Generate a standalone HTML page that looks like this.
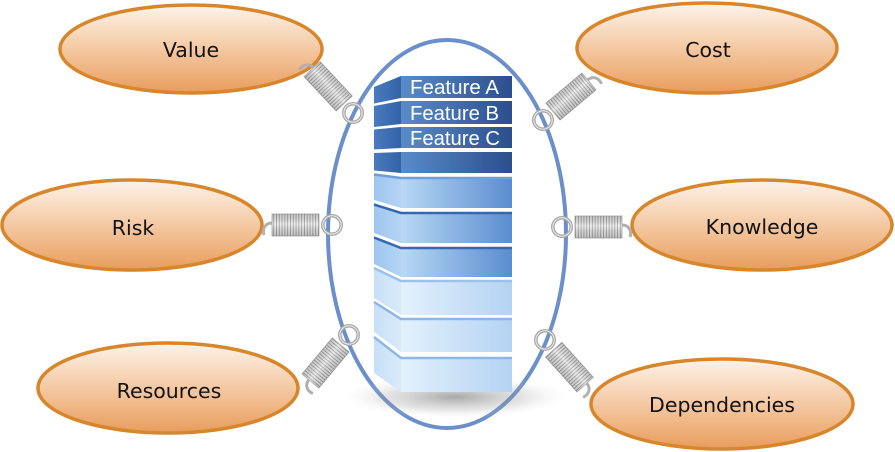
<!DOCTYPE html>
<html>
<head>
<meta charset="utf-8">
<style>
html,body{margin:0;padding:0;background:#fff;}
svg{display:block;}
.lbl{font-family:"DejaVu Sans","Liberation Sans",sans-serif;font-size:20.5px;fill:#111;text-anchor:middle;}
.ft{font-family:"Liberation Sans","DejaVu Sans",sans-serif;font-size:20px;fill:#fff;}
</style>
</head>
<body>
<svg width="895" height="452" viewBox="0 0 895 452" xmlns="http://www.w3.org/2000/svg">
<defs>
  <linearGradient id="og" x1="0" y1="0" x2="0" y2="1">
    <stop offset="0" stop-color="#fdf3ea"/>
    <stop offset="0.5" stop-color="#f4c9a3"/>
    <stop offset="1" stop-color="#e89d5c"/>
  </linearGradient>
  <linearGradient id="tf" x1="0" y1="0" x2="1" y2="0">
    <stop offset="0" stop-color="#5a8bc9"/>
    <stop offset="1" stop-color="#2b4f8c"/>
  </linearGradient>
  <linearGradient id="tl" x1="0" y1="0" x2="1" y2="0">
    <stop offset="0" stop-color="#4a7bbe"/>
    <stop offset="1" stop-color="#3163a6"/>
  </linearGradient>
  <linearGradient id="mf" x1="0" y1="0" x2="1" y2="0">
    <stop offset="0" stop-color="#b8d8f5"/>
    <stop offset="1" stop-color="#5a8dcf"/>
  </linearGradient>
  <linearGradient id="ml" x1="0" y1="0" x2="1" y2="0">
    <stop offset="0" stop-color="#9fc6ee"/>
    <stop offset="1" stop-color="#b3d4f4"/>
  </linearGradient>
  <linearGradient id="lf" x1="0" y1="0" x2="1" y2="0">
    <stop offset="0" stop-color="#e3f1fd"/>
    <stop offset="1" stop-color="#b4d3f2"/>
  </linearGradient>
  <linearGradient id="ll" x1="0" y1="0" x2="1" y2="0">
    <stop offset="0" stop-color="#c7dff7"/>
    <stop offset="1" stop-color="#d9ebfb"/>
  </linearGradient>
  <radialGradient id="sh" cx="0.5" cy="0.5" r="0.5">
    <stop offset="0" stop-color="#6f6f6f" stop-opacity="0.6"/>
    <stop offset="0.6" stop-color="#9a9a9a" stop-opacity="0.25"/>
    <stop offset="1" stop-color="#ffffff" stop-opacity="0"/>
  </radialGradient>
  <pattern id="coilP" patternUnits="userSpaceOnUse" width="2.8" height="22" x="0" y="-11">
    <rect width="2.8" height="22" fill="#e8e8e8"/>
    <rect width="0.9" height="22" fill="#9a9a9a"/>
  </pattern>
  <linearGradient id="cs" x1="0" y1="0" x2="0" y2="1">
    <stop offset="0" stop-color="#000" stop-opacity="0.12"/>
    <stop offset="0.45" stop-color="#fff" stop-opacity="0.25"/>
    <stop offset="1" stop-color="#000" stop-opacity="0.15"/>
  </linearGradient>
  <g id="coil">
    <path d="M-60,-2 C-67,-2 -70,4 -68,10" stroke="#b0b0b0" stroke-width="3" fill="none"/>
    <rect x="-60" y="-11" width="47" height="22" fill="url(#coilP)" stroke="#a5a5a5" stroke-width="0.8"/>
    <rect x="-60" y="-11" width="47" height="22" fill="url(#cs)"/>
  </g>
  <g id="ring">
    <circle r="9.2" fill="none" stroke="#a8a8a8" stroke-width="3.6"/>
    <circle r="9.2" fill="none" stroke="#ececec" stroke-width="1"/>
  </g>
</defs>

<!-- Ovals -->
<g stroke="#d8862c" stroke-width="3.5" fill="url(#og)">
  <ellipse cx="191" cy="49" rx="131" ry="44"/>
  <ellipse cx="132" cy="225" rx="130" ry="45"/>
  <ellipse cx="168" cy="388" rx="130" ry="45"/>
  <ellipse cx="707" cy="48" rx="130" ry="45"/>
  <ellipse cx="762" cy="225" rx="130" ry="45"/>
  <ellipse cx="722" cy="404" rx="131" ry="45"/>
</g>
<text class="lbl" x="191" y="57">Value</text>
<text class="lbl" x="133" y="235">Risk</text>
<text class="lbl" x="169" y="398">Resources</text>
<text class="lbl" x="708" y="57">Cost</text>
<text class="lbl" x="762" y="234">Knowledge</text>
<text class="lbl" x="722" y="412">Dependencies</text>

<!-- Springs (coils) -->
<use href="#coil" transform="translate(353,113) rotate(47)"/>
<use href="#coil" transform="translate(332,225) rotate(0)"/>
<use href="#coil" transform="translate(349,335) rotate(-50)"/>
<use href="#coil" transform="translate(543,120) rotate(140) scale(1,-1)"/>
<use href="#coil" transform="translate(562,227) rotate(180) scale(1,-1)"/>
<use href="#coil" transform="translate(545,340) rotate(228) scale(1,-1)"/>

<!-- Big ellipse -->
<ellipse cx="447" cy="234" rx="119" ry="194" fill="none" stroke="#6a8fca" stroke-width="4"/>

<!-- Shadow -->
<ellipse cx="455" cy="397" rx="118" ry="22" fill="url(#sh)"/>

<!-- Stack -->
<g>
  <polygon points="374,87 401,76 401,98 374,103.5" fill="url(#tl)"/>
  <rect x="401" y="76" width="111" height="22" fill="url(#tf)"/>
  <polygon points="374,106 401,101 401,124 374,127" fill="url(#tl)"/>
  <rect x="401" y="101" width="111" height="23" fill="url(#tf)"/>
  <polygon points="374,129.5 401,127 401,148 374,149.5" fill="url(#tl)"/>
  <rect x="401" y="127" width="111" height="21" fill="url(#tf)"/>
  <polygon points="374,153 401,152 401,173 374,170.5" fill="url(#tl)"/>
  <rect x="401" y="152" width="111" height="21" fill="url(#tf)"/>

  <polygon points="374,173.5 401,177 401,208 374,200" fill="url(#ml)"/>
  <rect x="401" y="177" width="111" height="31" fill="url(#mf)"/>
  <polygon points="374,203.5 401,212 401,243 374,233" fill="url(#ml)"/>
  <rect x="401" y="212" width="111" height="31" fill="url(#mf)"/>
  <polygon points="374,236.5 401,247 401,277 374,264" fill="url(#ml)"/>
  <rect x="401" y="247" width="111" height="30" fill="url(#mf)"/>

  <polygon points="374,267 401,280 401,315 374,298" fill="url(#ll)"/>
  <rect x="401" y="280" width="111" height="35" fill="url(#lf)"/>
  <polygon points="374,301 401,318 401,352 374,332" fill="url(#ll)"/>
  <rect x="401" y="318" width="111" height="34" fill="url(#lf)"/>
  <polygon points="374,336 401,357 401,392 374,373" fill="url(#ll)"/>
  <rect x="401" y="357" width="111" height="35" fill="url(#lf)"/>

  <g fill="none" stroke-width="2.5">
    <polyline points="374,174.5 401,178 512,178" stroke="#6f9fd8"/>
    <polyline points="374,204.5 401,213 512,213" stroke="#3468b3"/>
    <polyline points="374,237.5 401,248 512,248" stroke="#3468b3"/>
    <polyline points="374,268 401,281 512,281" stroke="#9cc1ea"/>
    <polyline points="374,302 401,319 512,319" stroke="#8fb7e6"/>
    <polyline points="374,337 401,358 512,358" stroke="#8fb7e6"/>
  </g>

  <text class="ft" x="410" y="94" textLength="89" lengthAdjust="spacingAndGlyphs">Feature A</text>
  <text class="ft" x="410" y="120" textLength="89" lengthAdjust="spacingAndGlyphs">Feature B</text>
  <text class="ft" x="410" y="145" textLength="90" lengthAdjust="spacingAndGlyphs">Feature C</text>
</g>

<!-- Rings -->
<use href="#ring" transform="translate(353,113)"/>
<use href="#ring" transform="translate(332,225)"/>
<use href="#ring" transform="translate(349,335)"/>
<use href="#ring" transform="translate(543,120)"/>
<use href="#ring" transform="translate(562,227)"/>
<use href="#ring" transform="translate(545,340)"/>
</svg>
</body>
</html>
